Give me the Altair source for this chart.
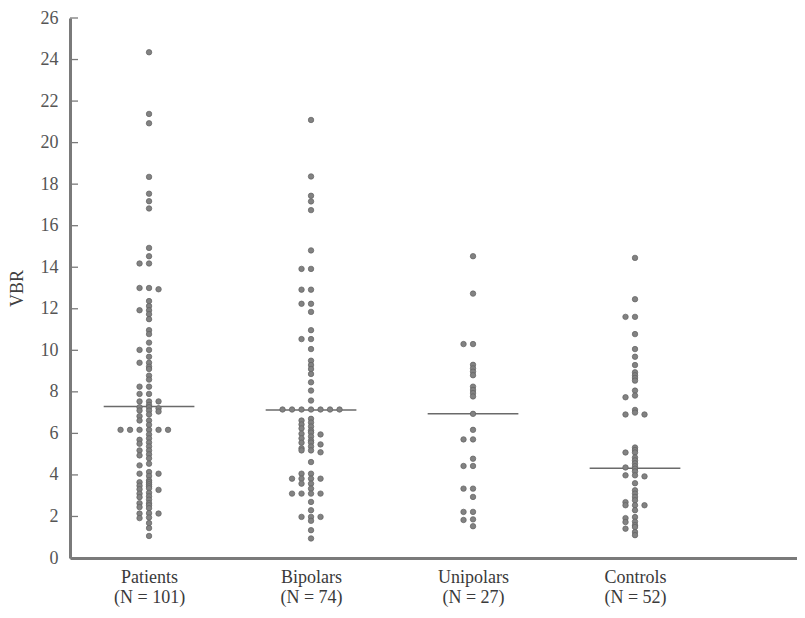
import altair as alt
import pandas as pd

groups = ["Patients", "Bipolars", "Unipolars", "Controls"]
n_labels = ["(N = 101)", "(N = 74)", "(N = 27)", "(N = 52)"]

patients = [24.35, 21.38, 20.93, 18.35, 17.54, 17.18, 16.83, 14.93, 14.53, 14.18, 14.18, 13.0, 13.0, 12.94,
            12.37, 12.13, 11.93, 11.93, 11.74, 11.5, 10.97, 10.78, 10.37, 10.02, 10.02, 9.69, 9.4, 9.4,
            9.21, 9.1, 8.78, 8.59, 8.25, 8.25, 7.9, 7.9,
            7.54, 7.54, 7.54,
            7.37, 7.21, 7.05, 6.91, 7.26, 7.1, 6.83, 6.62, 6.41, 7.26, 7.1, 6.62,
            6.17, 6.17, 6.17, 6.17, 6.17, 6.17,
            5.95, 5.76, 5.56, 5.37, 5.18, 4.99, 4.8,
            5.69, 5.18, 5.5, 4.94,
            4.46, 4.54, 4.06, 4.06,
            4.14, 3.95, 3.74, 3.55, 3.36,
            3.65, 3.48, 3.31, 3.14, 2.97, 2.81,
            3.65, 3.45, 3.28, 3.1, 2.93,
            2.64, 2.45, 1.95,
            2.64, 2.4, 2.16, 1.92, 1.68, 1.44,
            2.54, 2.14, 2.14,
            1.06]

bipolars = [21.09, 18.37, 17.44, 17.17, 16.75, 14.81, 13.92, 13.92, 12.92, 12.92, 12.24, 12.24, 11.85,
            10.97, 10.54, 10.54, 10.06, 9.5, 9.29, 9.1, 8.86, 8.46, 8.06, 7.58,
            7.15, 7.15, 7.15, 7.15, 7.15, 7.15, 7.15,
            6.7,
            6.62, 6.52, 6.43, 6.33, 6.24, 6.14, 6.04, 5.95, 5.85, 5.76, 5.66, 5.56, 5.47, 5.37, 5.28, 5.18, 5.09,
            5.98, 5.55, 5.18,
            4.62,
            4.06, 4.06,
            3.82, 3.82, 3.82, 3.82,
            3.58, 3.58,
            3.34,
            3.1, 3.1, 3.1, 3.1,
            2.7, 2.3,
            1.98, 1.98, 1.98,
            1.79, 1.34, 0.94]

unipolars = [14.53, 12.73, 10.3, 10.3, 9.3, 9.13, 8.97, 8.8, 8.25, 8.09, 7.94, 7.78, 6.94, 6.17,
             5.71, 5.71, 4.78, 4.43, 4.43, 3.34, 3.34, 2.94, 2.22, 2.22, 1.86, 1.83, 1.53]

controls = [14.45, 12.46, 11.61, 11.61, 10.78, 10.06, 9.69, 9.29, 8.94, 8.8, 8.67, 8.54, 8.06, 7.82,
            7.74, 7.13, 7.0, 6.91, 6.91,
            5.32, 5.2, 5.08, 4.84, 5.08, 4.7,
            4.56, 4.42, 4.3, 4.17, 3.93, 4.36, 3.98, 3.98, 3.6,
            3.26, 3.1, 2.94, 2.78, 2.54, 2.3, 2.69, 2.54, 2.54,
            1.92, 1.75, 1.58, 1.41, 1.25, 1.1, 1.97, 1.73, 1.49]

means = [7.29, 7.12, 6.95, 4.32]
y_ticks = list(range(0, 27, 2))

# ---- layout (dot-plot stacking), computed ----
STEP = 9.5 / 162.0
GAP = 0.09
ORDER = [0, -1, 1, -2, 2, -3, 3, -4, 4, -5, 5]


def swarm(vals):
    placed = {}
    out = []
    for v in sorted(vals, reverse=True):
        for c in ORDER:
            if all(abs(v - w) >= GAP for w in placed.get(c, [])):
                placed.setdefault(c, []).append(v)
                out.append((v, c))
                break
    return out


rows = []
for gi, vals in enumerate([patients, bipolars, unipolars, controls]):
    for v, c in swarm(vals):
        rows.append({"group": groups[gi], "xpos": gi + c * STEP, "VBR": v})
points_df = pd.DataFrame(rows)

HALF = 0.28
mean_df = pd.DataFrame({
    "group": groups,
    "x1": [i - HALF for i in range(len(groups))],
    "x2": [i + HALF for i in range(len(groups))],
    "mean": means,
})
tick_df = pd.DataFrame({"t": y_ticks})

label_expr = "[" + ",".join(f"['{g}','{n}']" for g, n in zip(groups, n_labels)) + "][datum.value]"

SERIF = "Liberation Serif"

xscale = alt.Scale(domain=[-0.488, 4.0], nice=False, zero=False)
yscale = alt.Scale(domain=[0, 26], nice=False, zero=True)

points = alt.Chart(points_df).mark_circle(
    size=30, color="#828282", opacity=1, stroke="#606060", strokeWidth=0.7
).encode(
    x=alt.X("xpos:Q", scale=xscale,
            axis=alt.Axis(values=list(range(len(groups))), labelExpr=label_expr, title=None,
                          grid=False, ticks=False, domainWidth=3, domainColor="#7a7a7a",
                          labelFontSize=18, labelColor="#3a3a3a",
                          labelPadding=10, labelLineHeight=20, labelBaseline="top")),
    y=alt.Y("VBR:Q", scale=yscale,
            axis=alt.Axis(values=y_ticks, title="VBR", grid=False, ticks=False,
                          domainWidth=3, domainColor="#7a7a7a",
                          labelFontSize=18, labelColor="#555555",
                          labelPadding=12, titleFontSize=18,
                          titleFontWeight="normal", titleColor="#404040", titlePadding=14)),
)

mean_lines = alt.Chart(mean_df).mark_rule(color="#6a6a6a", strokeWidth=1.5).encode(
    x=alt.X("x1:Q", scale=xscale), x2="x2:Q", y=alt.Y("mean:Q", scale=yscale)
)

ticks = alt.Chart(tick_df).mark_rule(color="#7a7a7a", strokeWidth=1.3).encode(
    y=alt.Y("t:Q", scale=yscale), x=alt.value(0), x2=alt.value(8)
)

chart = alt.layer(ticks, mean_lines, points).properties(
    width=727, height=540,
    padding={"left": 62, "top": 10, "right": 0, "bottom": 52},
    autosize="none",
).configure(font=SERIF).configure_axis(
    labelFont=SERIF, titleFont=SERIF
).configure_view(strokeWidth=0)

chart.save("out.html", embed_options={"renderer": "svg", "actions": False})
